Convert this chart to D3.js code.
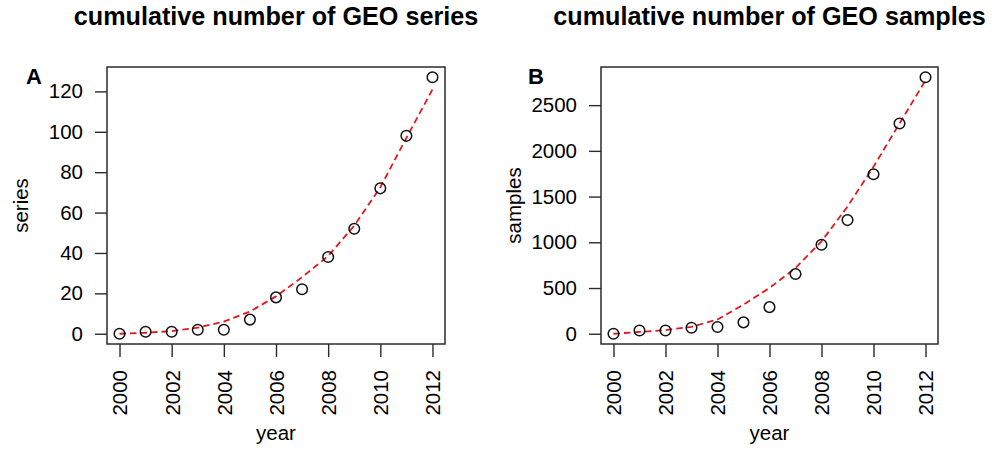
<!DOCTYPE html>
<html><head><meta charset="utf-8">
<script src="https://cdn.jsdelivr.net/npm/d3@7"></script>
<style>
html,body{margin:0;padding:0;background:#fff;}
svg{display:block;font-family:"Liberation Sans",Arial,Helvetica,sans-serif;}
</style>
</head><body>
<svg id="chart" width="992" height="454"></svg>
<script>
// ---- data ----
const years = [2000,2001,2002,2003,2004,2005,2006,2007,2008,2009,2010,2011,2012];
const seriesCounts = [0,1,1,2,2,7,18,22,38,52,72,98,127];
const seriesFit = [0,0.5,1.3,3,6,11,18.5,28,38.5,53.5,72.5,97,121];
const sampleCounts = [0,36,36,65,73,124,291,654,974,1243,1744,2300,2805];
const sampleFit = [0,20,40,76,156,319,501,719,1010,1391,1827,2300,2772];
const xTicks = [2000,2002,2004,2006,2008,2010,2012];
const seriesTicks = [0,20,40,60,80,100,120];
const sampleTicks = [0,500,1000,1500,2000,2500];
const titles = ["cumulative number of GEO series","cumulative number of GEO samples"];
const panelLetters = ["A","B"];
const yLabels = ["series","samples"];
const xLabel = "year";

const svg = d3.select("#chart");

function pad(ext){const r=ext[1]-ext[0];return [ext[0]-0.04*r, ext[1]+0.04*r];}

function panel(cfg){
  const {left,right,top,bottom,counts,fit,yTicks,title,letter,ylab,ylabX,letterX} = cfg;
  const x = d3.scaleLinear().domain(pad(d3.extent(years))).range([left,right]);
  const y = d3.scaleLinear().domain(pad(d3.extent(counts))).range([bottom,top]);
  const g = svg.append("g");
  const axisColor = "#2b2b2b";

  // y axis
  const ya = g.append("g").attr("transform",`translate(${left},0)`)
    .call(d3.axisLeft(y).tickValues(yTicks).tickSize(12).tickPadding(12).tickFormat(d3.format("d")));
  ya.select(".domain").remove();
  ya.selectAll("line").attr("stroke",axisColor).attr("stroke-width",1.4);
  ya.selectAll("text").attr("font-size",20.5).attr("fill","#000").attr("font-family","Liberation Sans, Arial, sans-serif");

  // x axis
  const xa = g.append("g").attr("transform",`translate(0,${bottom})`)
    .call(d3.axisBottom(x).tickValues(xTicks).tickSize(13).tickFormat(d3.format("d")));
  xa.select(".domain").remove();
  xa.selectAll("line").attr("stroke",axisColor).attr("stroke-width",1.4);
  xa.selectAll("text").attr("font-size",20.5).attr("fill","#000")
    .attr("font-family","Liberation Sans, Arial, sans-serif")
    .attr("text-anchor","end").attr("dy",null).attr("y",null)
    .attr("transform","translate(0,26) rotate(-90)").attr("dy","0.36em");

  // box
  g.append("rect").attr("x",left).attr("y",top).attr("width",right-left).attr("height",bottom-top)
    .attr("fill","none").attr("stroke",axisColor).attr("stroke-width",1.5);

  // fit line
  const line = d3.line().x((d,i)=>x(years[i])).y(d=>y(d));
  g.append("path").datum(fit).attr("d",line).attr("fill","none")
    .attr("stroke","#e4161c").attr("stroke-width",1.8).attr("stroke-dasharray","6.5,4");

  // points
  g.selectAll("circle.pt").data(counts).join("circle").attr("class","pt")
    .attr("cx",(d,i)=>x(years[i])).attr("cy",d=>y(d)).attr("r",5.3)
    .attr("fill","none").attr("stroke","#111").attr("stroke-width",1.5);

  // title
  g.append("text").attr("x",(left+right)/2).attr("y",25).attr("text-anchor","middle")
    .attr("font-size",25.2).attr("font-weight","bold").attr("fill","#000").text(title);
  // letter
  g.append("text").attr("x",letterX).attr("y",84).attr("font-size",22).attr("font-weight","bold")
    .attr("fill","#000").text(letter);
  // y label
  g.append("text").attr("transform",`translate(${ylabX},${(top+bottom)/2}) rotate(-90)`)
    .attr("text-anchor","middle").attr("font-size",20.5).attr("fill","#000").text(ylab);
  // x label
  g.append("text").attr("x",(left+right)/2).attr("y",440).attr("text-anchor","middle")
    .attr("font-size",20.5).attr("fill","#000").text(xLabel);
}

panel({left:107,right:445,top:67,bottom:344,counts:seriesCounts,fit:seriesFit,yTicks:seriesTicks,
  title:titles[0],letter:panelLetters[0],ylab:yLabels[0],ylabX:28,letterX:26});
panel({left:601,right:938,top:67,bottom:344,counts:sampleCounts,fit:sampleFit,yTicks:sampleTicks,
  title:titles[1],letter:panelLetters[1],ylab:yLabels[1],ylabX:521,letterX:528});
</script>
</body></html>
